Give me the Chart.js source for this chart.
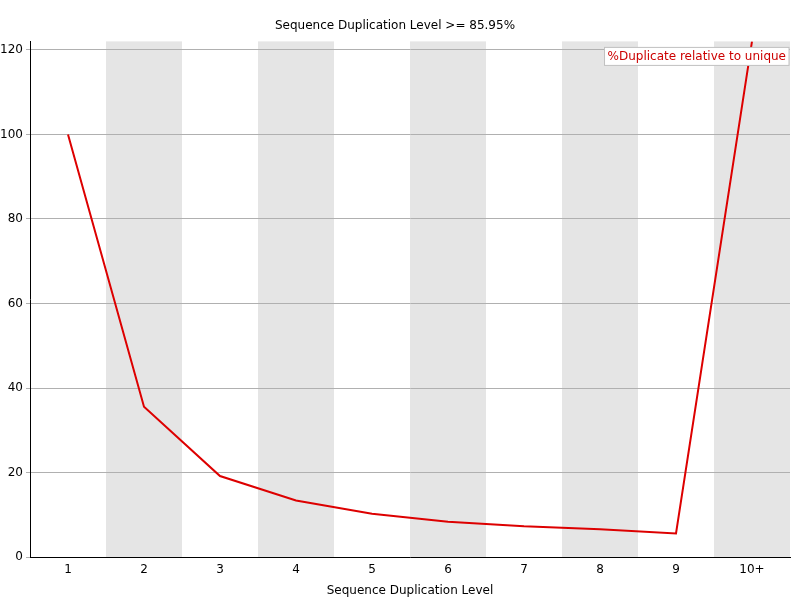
<!DOCTYPE html>
<html>
<head>
<meta charset="utf-8">
<script src="https://cdn.jsdelivr.net/npm/chart.js"></script>
<style>
  html, body { margin: 0; padding: 0; background: #fff; }
  #wrap { width: 800px; height: 600px; }
</style>
</head>
<body>
<div id="wrap"><canvas id="dup"></canvas></div>
<script>
const levels = ['1', '2', '3', '4', '5', '6', '7', '8', '9', '10+'];
const dupRelative = [100, 35.6, 19.2, 13.4, 10.3, 8.4, 7.3, 6.6, 5.6, 122];
const yTicks = [0, 20, 40, 60, 80, 100, 120];

// grey bands behind every second category
const bands = {
  id: 'bands',
  beforeDraw(chart) {
    const { ctx, chartArea: a, scales: { x } } = chart;
    const w = x.width / levels.length;
    ctx.save();
    ctx.fillStyle = '#e5e5e5';
    levels.forEach((l, i) => {
      if (i % 2 === 1) {
        const cx = x.getPixelForValue(i);
        ctx.fillRect(cx - w / 2, a.top, w, a.bottom - a.top);
      }
    });
    ctx.restore();
  },
  afterDraw(chart) {
    const { ctx, chartArea: a } = chart;
    const label = chart.data.datasets[0].label;
    ctx.save();
    ctx.font = '12px "DejaVu Sans"';
    const tw = ctx.measureText(label).width;
    const bx = a.right - tw - 4, by = a.top + 8;
    ctx.fillStyle = '#fff';
    ctx.fillRect(bx - 3, by - 2, tw + 6, 18);
    ctx.strokeStyle = '#c0c0c0';
    ctx.strokeRect(bx - 3, by - 2, tw + 6, 18);
    ctx.fillStyle = '#cc0000';
    ctx.textBaseline = 'middle';
    ctx.fillText(label, bx, by + 7);
    ctx.restore();
  }
};

new Chart(document.getElementById('dup'), {
  type: 'line',
  data: {
    labels: levels,
    datasets: [{
      label: '%Duplicate relative to unique',
      data: dupRelative,
      borderColor: '#dd0000',
      borderWidth: 2,
      pointRadius: 0,
      tension: 0
    }]
  },
  options: {
    responsive: true,
    maintainAspectRatio: false,
    animation: false,
    layout: { padding: { left: 0, right: 10, top: 0, bottom: 2 } },
    plugins: {
      legend: { display: false },
      tooltip: { enabled: false },
      title: {
        display: true,
        text: 'Sequence Duplication Level >= 85.95%',
        color: '#000',
        font: { family: 'DejaVu Sans', size: 12, weight: 'normal' },
        padding: { top: 19, bottom: 8 }
      }
    },
    scales: {
      x: {
        offset: true,
        grid: { display: false, drawTicks: false },
        border: { color: '#000' },
        ticks: { color: '#000', padding: 5, font: { family: 'DejaVu Sans', size: 12 } },
        title: {
          display: true,
          text: 'Sequence Duplication Level',
          color: '#000',
          font: { family: 'DejaVu Sans', size: 12 },
          padding: { top: 2, bottom: 0 }
        }
      },
      y: {
        min: 0,
        max: 122,
        afterFit(s) { s.width = 30; },
        afterBuildTicks(s) { s.ticks = yTicks.map(v => ({ value: v })); },
        grid: { color: '#b0b0b0', drawTicks: true, tickLength: 4 },
        border: { color: '#000' },
        ticks: { color: '#000', font: { family: 'DejaVu Sans', size: 12 } }
      }
    }
  },
  plugins: [bands]
});
</script>
</body>
</html>
